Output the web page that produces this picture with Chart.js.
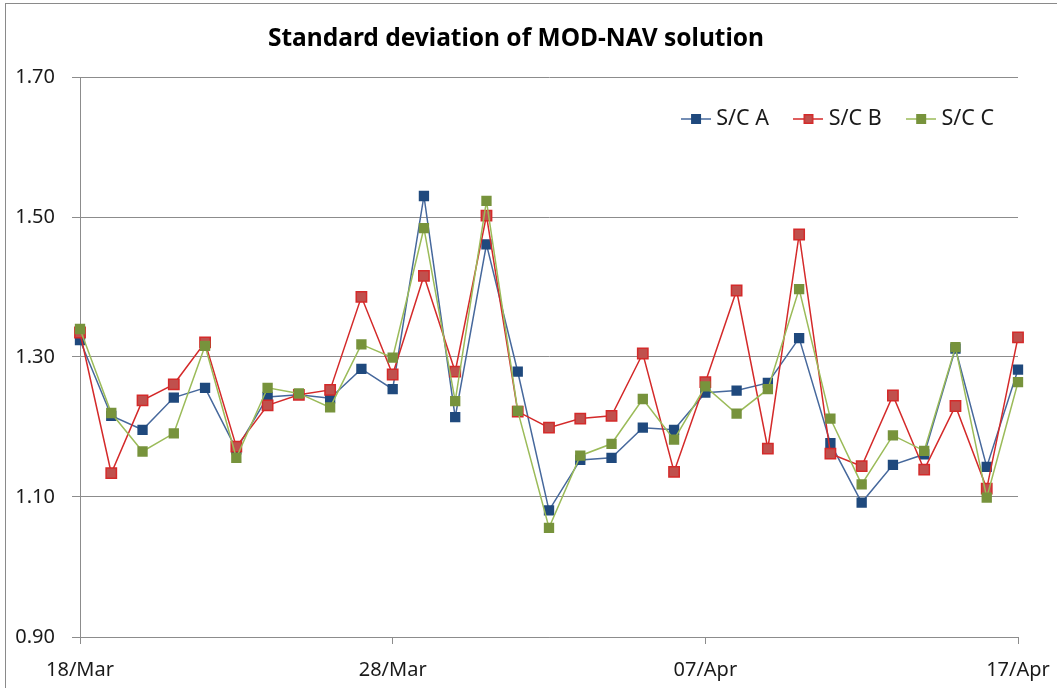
<!DOCTYPE html>
<html>
<head>
<meta charset="utf-8">
<script src="https://cdn.jsdelivr.net/npm/chart.js@4"></script>
<style>
  html, body { margin: 0; padding: 0; background: #fff; overflow: hidden; }
  #wrap { position: relative; width: 1057px; height: 688px; }
  #frame { position: absolute; left: 5px; top: 3px; width: 1200px; height: 800px;
           border-left: 1.5px solid #8a8a8a; border-top: 1.5px solid #8a8a8a; pointer-events: none; }
  canvas { position: absolute; left: 0; top: 0; }
</style>
</head>
<body>
<div id="wrap">
  <canvas id="c" width="1057" height="688"></canvas>
  <div id="frame"></div>
</div>
<script>
const dates = ['18/Mar','19/Mar','20/Mar','21/Mar','22/Mar','23/Mar','24/Mar','25/Mar','26/Mar','27/Mar',
  '28/Mar','29/Mar','30/Mar','31/Mar','01/Apr','02/Apr','03/Apr','04/Apr','05/Apr','06/Apr',
  '07/Apr','08/Apr','09/Apr','10/Apr','11/Apr','12/Apr','13/Apr','14/Apr','15/Apr','16/Apr','17/Apr'];
const shownDates = ['18/Mar','28/Mar','07/Apr','17/Apr'];
const scA = [1.324,1.216,1.196,1.242,1.256,1.168,1.243,1.246,1.241,1.283,1.254,1.530,1.214,1.461,1.279,1.081,1.153,1.156,1.199,1.196,1.249,1.252,1.263,1.327,1.177,1.092,1.146,1.161,1.312,1.143,1.282];
const scB = [1.335,1.134,1.238,1.261,1.321,1.172,1.231,1.246,1.253,1.386,1.275,1.416,1.279,1.502,1.222,1.199,1.212,1.216,1.305,1.136,1.264,1.395,1.169,1.475,1.162,1.144,1.245,1.139,1.230,1.112,1.328];
const scC = [1.340,1.220,1.165,1.191,1.316,1.156,1.256,1.248,1.228,1.318,1.299,1.484,1.237,1.523,1.223,1.056,1.159,1.176,1.240,1.182,1.258,1.219,1.254,1.397,1.212,1.118,1.188,1.166,1.314,1.099,1.264];
const seriesNames = ['S/C A','S/C B','S/C C'];

const FONT = "'Noto Sans', 'Open Sans', sans-serif";

// lay the legend out as a single row even when it sits inside the plot area
const LegendCls = Chart.registry.plugins.get('legend')._element;
const origHoriz = LegendCls.prototype.isHorizontal;
LegendCls.prototype.isHorizontal = function () {
  return this.options.position === 'chartArea' ? true : origHoriz.call(this);
};
const legendPlace = {
  id: 'legendPlace',
  afterLayout(chart) {
    const l = chart.legend;
    if (l && l.options.position === 'chartArea') {
      l.left = chart.chartArea.left;
      l.right = chart.chartArea.right + 6;
    }
  }
};

function legendIcon(line, fill, stroke) {
  const cv = document.createElement('canvas');
  cv.width = 30; cv.height = 12;
  const g = cv.getContext('2d');
  g.strokeStyle = line; g.lineWidth = 1.5;
  g.beginPath(); g.moveTo(0, 6); g.lineTo(30, 6); g.stroke();
  g.fillStyle = fill; g.fillRect(10, 1, 10, 10);
  if (stroke) { g.strokeStyle = stroke; g.lineWidth = 1.5; g.strokeRect(10.75, 1.75, 8.5, 8.5); }
  return cv;
}

const styles = [
  {line: '#46689c', fill: '#1f497d', stroke: null},
  {line: '#d42a2a', fill: '#c0504d', stroke: '#d42a2a'},
  {line: '#9bbb59', fill: '#77933c', stroke: null}
];
const icons = styles.map(s => legendIcon(s.line, s.fill, s.stroke));

const values = [scA, scB, scC];
const datasets = values.map((v, i) => ({
  label: seriesNames[i],
  data: v,
  borderColor: styles[i].line,
  borderWidth: 1.5,
  backgroundColor: styles[i].fill,
  pointStyle: 'rect',
  pointRadius: 7.3,
  pointBackgroundColor: styles[i].fill,
  pointBorderColor: styles[i].stroke || styles[i].fill,
  pointBorderWidth: styles[i].stroke ? 1.5 : 0,
  tension: 0,
  order: 3 - i
}));

new Chart(document.getElementById('c'), {
  type: 'line',
  data: { labels: dates, datasets },
  plugins: [legendPlace],
  options: {
    responsive: false,
    animation: false,
    events: [],
    layout: { padding: { left: 14, right: 39, top: 0, bottom: 0 } },
    plugins: {
      tooltip: { enabled: false },
      title: {
        display: true,
        text: 'Standard deviation of MOD-NAV solution',
        color: '#000',
        font: { family: FONT, size: 24.5, weight: 'bold' },
        padding: { top: 24, bottom: 23.6 }
      },
      legend: {
        position: 'chartArea',
        align: 'end',
        title: { display: true, text: ' ', font: { size: 1 }, padding: 0, color: 'rgba(0,0,0,0)' },
        labels: {
          usePointStyle: true,
          pointStyleWidth: 19,
          padding: 30,
          color: '#1a1a1a',
          font: { family: FONT, size: 21.5 },
          sort: (a, b) => a.datasetIndex - b.datasetIndex,
          generateLabels: (chart) => chart.data.datasets.map((d, i) => ({
            text: d.label,
            pointStyle: icons[i],
            fillStyle: styles[i].fill,
            strokeStyle: styles[i].line,
            lineWidth: 0,
            fontColor: '#1a1a1a',
            datasetIndex: i,
            hidden: false
          }))
        }
      }
    },
    scales: {
      x: {
        type: 'category',
        offset: false,
        grid: { drawOnChartArea: false, drawTicks: true, tickLength: 7, color: '#8c8c8c' },
        border: { display: true, color: '#8c8c8c', width: 1 },
        ticks: {
          autoSkip: false,
          maxRotation: 0,
          padding: 14,
          color: '#1a1a1a',
          font: { family: FONT, size: 20 },
          callback: function (val, idx) {
            const lab = dates[idx];
            return shownDates.includes(lab) ? lab : null;
          }
        },
        afterFit: (s) => { s.height = 51; s.paddingLeft = 0; s.paddingRight = 0; }
      },
      y: {
        min: 0.9,
        max: 1.7,
        grid: { color: '#8c8c8c', lineWidth: 1, tickLength: 8 },
        border: { display: true, color: '#8c8c8c', width: 1 },
        ticks: {
          stepSize: 0.2,
          padding: 17,
          color: '#1a1a1a',
          font: { family: FONT, size: 20 },
          callback: v => Number(v).toFixed(2)
        },
        afterFit: (s) => { s.width = 66; s.paddingTop = 0; s.paddingBottom = 0; }
      }
    }
  }
});
</script>
</body>
</html>
